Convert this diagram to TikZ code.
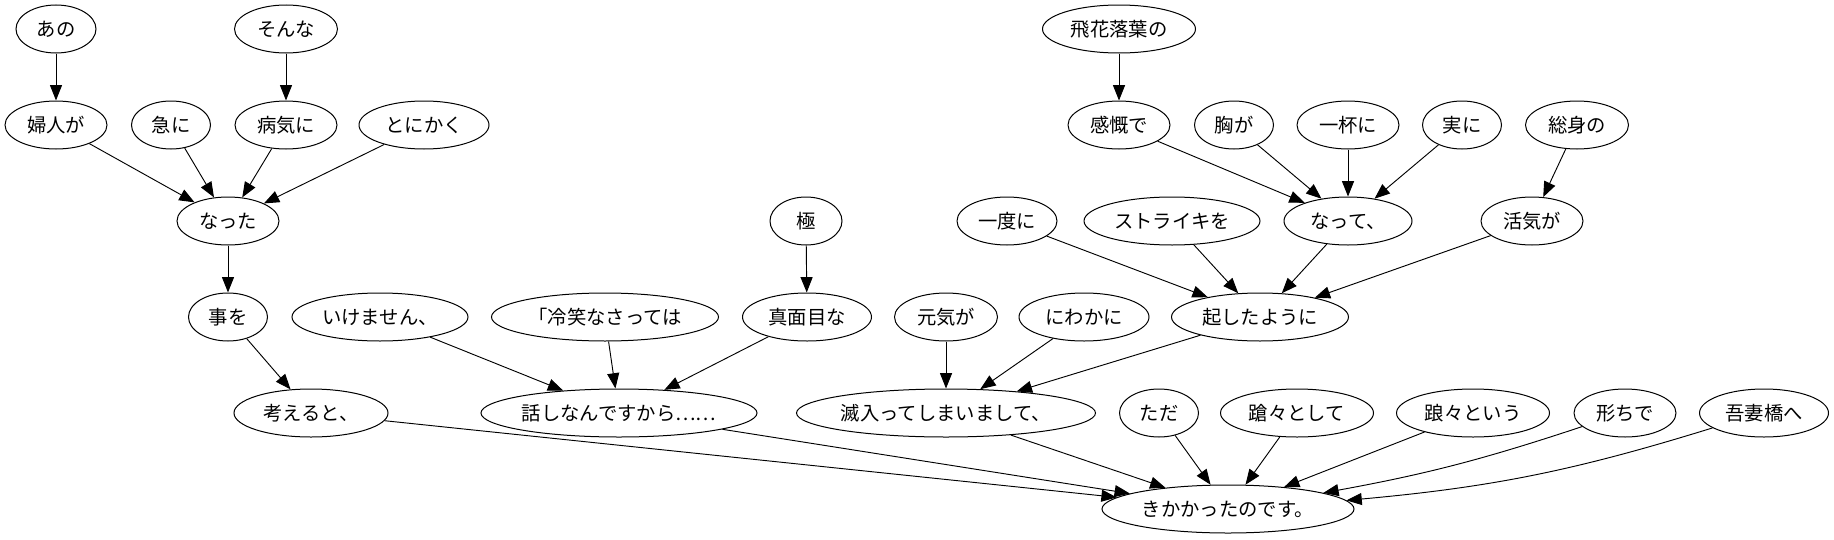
\documentclass[tikz,border=0pt]{standalone}
\usepackage{fontspec}
\newfontfamily\cjk{Noto Sans CJK JP}
\usetikzlibrary{shapes.geometric,arrows.meta}
\tikzset{
  nd/.style={draw, ellipse, line width=0.75pt, inner sep=0pt, minimum height=36pt,
    minimum width=0.75pt*#1, font=\cjk\fontsize{14.5}{16}\selectfont},
  ed/.style={draw, line width=0.7pt, -{Triangle[length=11.5pt,width=9pt]}}
}
\begin{document}
\begin{tikzpicture}[x=0.75pt,y=-0.75pt]
\useasboundingbox (0,0) rectangle (1834,539);
% row 1
\node[nd=80]  (ano)   at (56,29)   {あの};
\node[nd=103] (sonna) at (286,29)  {そんな};
\node[nd=153] (hika)  at (1119,29) {飛花落葉の};
% row 2
\node[nd=102] (fujin)    at (56,125)   {婦人が};
\node[nd=79]  (kyu)      at (171,125)  {急に};
\node[nd=102] (byoki)    at (286,125)  {病気に};
\node[nd=130] (tonikaku) at (424,125)  {とにかく};
\node[nd=102] (kangai)   at (1119,125) {感慨で};
\node[nd=79]  (mune)     at (1234,125) {胸が};
\node[nd=102] (ippai)    at (1348,125) {一杯に};
\node[nd=79]  (jitsu)    at (1462,125) {実に};
\node[nd=103] (soshin)   at (1577,125) {総身の};
% row 3
\node[nd=102] (natta)  at (228,221)  {なった};
\node[nd=72]  (goku)   at (806,221)  {極};
\node[nd=100] (ichido) at (1007,221) {一度に};
\node[nd=176] (strike) at (1172,221) {ストライキを};
\node[nd=128] (natte)  at (1348,221) {なって、};
\node[nd=102] (kakki)  at (1532,221) {活気が};
% row 4
\node[nd=79]  (koto)     at (228,317)  {事を};
\node[nd=176] (ikemasen) at (380,317)  {いけません、};
\node[nd=227] (reisho)   at (605,317)  {「冷笑なさっては};
\node[nd=129] (majime)   at (807,317)  {真面目な};
\node[nd=103] (genki)    at (946,317)  {元気が};
\node[nd=130] (niwaka)   at (1084,317) {にわかに};
\node[nd=177] (okoshita) at (1260,317) {起したように};
% row 5
\node[nd=154] (kangaeru) at (311,413)  {考えると、};
\node[nd=276] (hanashi)  at (619,413)  {話しなんですから……};
\node[nd=299] (meitte)   at (946,413)  {滅入ってしまいまして、};
\node[nd=79]  (tada)     at (1159,413) {ただ};
\node[nd=153] (soso)     at (1297,413) {蹌々として};
\node[nd=153] (roro)     at (1473,413) {踉々という};
\node[nd=102] (katachi)  at (1625,413) {形ちで};
\node[nd=129] (azuma)    at (1764,413) {吾妻橋へ};
% row 6
\node[nd=252] (kika) at (1228,509) {きかかったのです。};
% edges
\draw[ed] (ano) -- (fujin);
\draw[ed] (sonna) -- (byoki);
\draw[ed] (fujin) -- (natta);
\draw[ed] (kyu) -- (natta);
\draw[ed] (byoki) -- (natta);
\draw[ed] (tonikaku) -- (natta);
\draw[ed] (natta) -- (koto);
\draw[ed] (koto) -- (kangaeru);
\draw[ed] (kangaeru) -- (kika);
\draw[ed] (ikemasen) -- (hanashi);
\draw[ed] (reisho) -- (hanashi);
\draw[ed] (majime) -- (hanashi);
\draw[ed] (goku) -- (majime);
\draw[ed] (hanashi) -- (kika);
\draw[ed] (genki) -- (meitte);
\draw[ed] (niwaka) -- (meitte);
\draw[ed] (okoshita) -- (meitte);
\draw[ed] (meitte) -- (kika);
\draw[ed] (hika) -- (kangai);
\draw[ed] (kangai) -- (natte);
\draw[ed] (mune) -- (natte);
\draw[ed] (ippai) -- (natte);
\draw[ed] (jitsu) -- (natte);
\draw[ed] (ichido) -- (okoshita);
\draw[ed] (strike) -- (okoshita);
\draw[ed] (natte) -- (okoshita);
\draw[ed] (kakki) -- (okoshita);
\draw[ed] (soshin) -- (kakki);
\draw[ed] (tada) -- (kika);
\draw[ed] (soso) -- (kika);
\draw[ed] (roro) -- (kika);
\draw[ed] (katachi) to[bend left=4] (kika);
\draw[ed] (azuma) to[bend left=6] (kika);
\end{tikzpicture}
\end{document}
